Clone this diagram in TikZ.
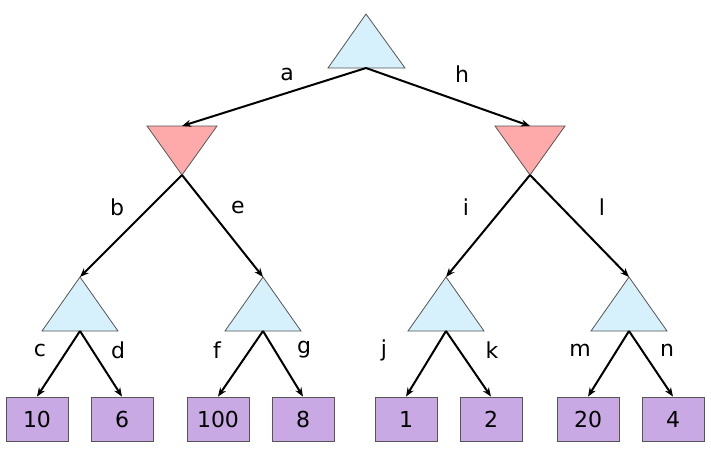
\documentclass[tikz,border=0pt]{standalone}
\usepackage{fontspec}
\setmainfont{DejaVu Sans}
\usetikzlibrary{arrows.meta}
\definecolor{maxblue}{HTML}{D6F0FC}
\definecolor{minpink}{HTML}{FFAAAA}
\definecolor{leafpurple}{HTML}{C9A9E3}
\definecolor{rim}{HTML}{555555}
\begin{document}
\begin{tikzpicture}[x=1pt, y=-1pt,
  maxtri/.style={fill=maxblue, draw=rim, line width=0.8pt},
  mintri/.style={fill=minpink, draw=rim, line width=0.8pt},
  leaf/.style={draw=rim, fill=leafpurple, line width=0.8pt, minimum width=62pt, minimum height=44pt, inner sep=0pt, font=\fontsize{22pt}{26pt}\selectfont},
  edge/.style={-{Stealth[length=9pt, width=7pt]}, line width=2pt},
  lbl/.style={font=\fontsize{22pt}{26pt}\selectfont}]
\useasboundingbox (0,0) rectangle (711,450);
% root
\draw[maxtri] (366,14) -- (405,68) -- (328,68) -- cycle;
\coordinate (root) at (366,68);
% min level
\draw[mintri] (147,126) -- (217,126) -- (182,175) -- cycle;
\draw[mintri] (495,126) -- (565,126) -- (530,175) -- cycle;
\coordinate (minL-top) at (182,126);
\coordinate (minL-bot) at (182,175);
\coordinate (minR-top) at (530,126);
\coordinate (minR-bot) at (530,175);
% max level
\draw[maxtri] (80,277) -- (118,331) -- (42,331) -- cycle;
\draw[maxtri] (263,277) -- (301,331) -- (225,331) -- cycle;
\draw[maxtri] (446,277) -- (484,331) -- (408,331) -- cycle;
\draw[maxtri] (629,277) -- (667,331) -- (591,331) -- cycle;
\coordinate (max1-top) at (80,277);
\coordinate (max1-bot) at (80,331);
\coordinate (max2-top) at (263,277);
\coordinate (max2-bot) at (263,331);
\coordinate (max3-top) at (446,277);
\coordinate (max3-bot) at (446,331);
\coordinate (max4-top) at (629,277);
\coordinate (max4-bot) at (629,331);
% leaves
\node[leaf] (leaf1) at (37,419) {10};
\node[leaf] (leaf2) at (122,419) {6};
\node[leaf] (leaf3) at (218,419) {100};
\node[leaf] (leaf4) at (303,419) {8};
\node[leaf] (leaf5) at (406,419) {1};
\node[leaf] (leaf6) at (491,419) {2};
\node[leaf] (leaf7) at (588,419) {20};
\node[leaf] (leaf8) at (673,419) {4};
% moves
\draw[edge] (root) -- (minL-top);
\draw[edge] (root) -- (minR-top);
\draw[edge] (minL-bot) -- (max1-top);
\draw[edge] (minL-bot) -- (max2-top);
\draw[edge] (minR-bot) -- (max3-top);
\draw[edge] (minR-bot) -- (max4-top);
\draw[edge] (max1-bot) -- (leaf1.north);
\draw[edge] (max1-bot) -- (leaf2.north);
\draw[edge] (max2-bot) -- (leaf3.north);
\draw[edge] (max2-bot) -- (leaf4.north);
\draw[edge] (max3-bot) -- (leaf5.north);
\draw[edge] (max3-bot) -- (leaf6.north);
\draw[edge] (max4-bot) -- (leaf7.north);
\draw[edge] (max4-bot) -- (leaf8.north);
% move labels
\node[lbl] (la) at (287,74) {a};
\node[lbl] (lh) at (462,74) {h};
\node[lbl] (lb) at (117,207) {b};
\node[lbl] (le) at (238,207) {e};
\node[lbl] (li) at (466,207) {i};
\node[lbl] (ll) at (602,207) {l};
\node[lbl] (lc) at (40,350) {c};
\node[lbl] (ld) at (118,350) {d};
\node[lbl] (lf) at (217,350) {f};
\node[lbl] (lg) at (304,350) {g};
\node[lbl] (lj) at (384,350) {j};
\node[lbl] (lk) at (492,350) {k};
\node[lbl] (lm) at (580,350) {m};
\node[lbl] (ln) at (667,350) {n};
\end{tikzpicture}
\end{document}
